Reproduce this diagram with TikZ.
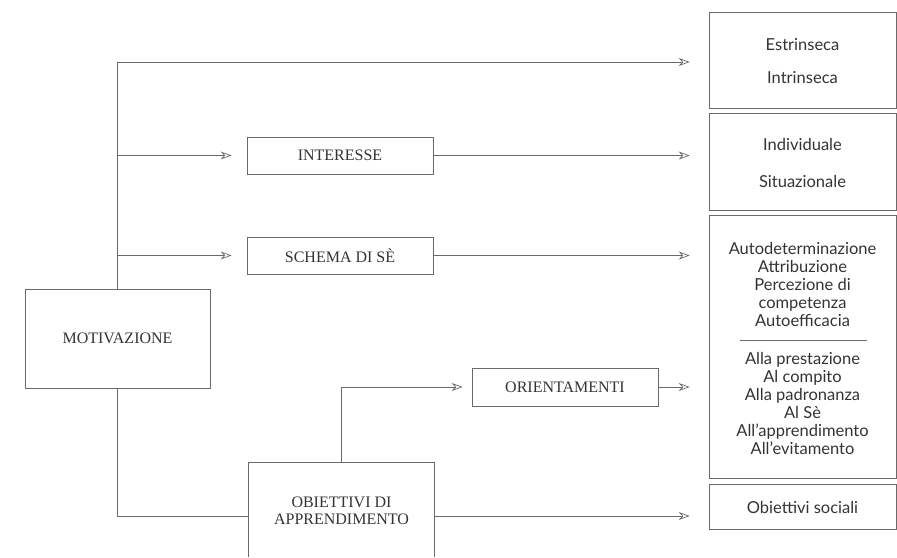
\documentclass[tikz,border=0pt]{standalone}
\usepackage{fontspec}
\setmainfont{Lato}
\newfontfamily\capsfont{Liberation Serif}
\usetikzlibrary{arrows.meta,calc}
\definecolor{ink}{HTML}{333333}
\definecolor{linec}{HTML}{6A6A6A}
\tikzset{
  boxl/.style={draw=linec,line width=0.7pt,rectangle,inner sep=0pt,text=ink,font=\capsfont\fontsize{16}{17}\selectfont,align=center},
  boxr/.style={draw=linec,line width=0.7pt,rectangle,inner sep=0pt},
  rtext/.style={text=ink,font=\fontsize{16.5}{18}\selectfont,align=center,inner sep=0pt},
  ln/.style={draw=linec,line width=0.7pt},
  arr/.style={ln,-{Stealth[open,length=11pt,width=8pt]}},
}
\begin{document}
\begin{tikzpicture}[x=1pt,y=-1pt]
\useasboundingbox (0,0) rectangle (897,557);
% left boxes
\node[boxl,minimum width=185pt,minimum height=99pt] (motiv) at (117.5,338.5) {MOTIVAZIONE};
\node[boxl,minimum width=186pt,minimum height=37pt] (inter) at (340,155.5) {INTERESSE};
\node[boxl,minimum width=186pt,minimum height=37pt] (schema) at (340,255.5) {SCHEMA DI SÈ};
\node[boxl,minimum width=186pt,minimum height=38pt] (orient) at (565,387) {ORIENTAMENTI};
\node[boxl,draw=none,minimum width=185pt,minimum height=106pt] (obj) at (341.5,516) {};
\node[boxl,draw=none] (objt) at (341.5,511) {OBIETTIVI DI\\APPRENDIMENTO};
\draw[ln] (obj.north west |- 0,557) -- (obj.north west) -- (obj.north east) -- (obj.north east |- 0,557);
% right boxes
\node[boxr,minimum width=187pt,minimum height=96pt] (r1) at (802.5,60) {};
\node[boxr,minimum width=187pt,minimum height=97pt] (r2) at (802.5,161.5) {};
\node[boxr,minimum width=187pt,minimum height=263pt] (r3) at (802.5,346.5) {};
\node[boxr,minimum width=187pt,minimum height=45pt] (r4) at (802.5,506.5) {};
\node[rtext] (t1a) at (802.5,45) {Estrinseca};
\node[rtext] (t1b) at (802.5,78) {Intrinseca};
\node[rtext] (t2a) at (802.5,144) {Individuale};
\node[rtext] (t2b) at (802.5,181) {Situazionale};
\node[rtext] (t3a) at (802.5,284) {Autodeterminazione\\Attribuzione\\Percezione di\\competenza\\Autoefficacia};
\node[rtext] (t3b) at (802.5,403) {Alla prestazione\\Al compito\\Alla padronanza\\Al Sè\\All’apprendimento\\All’evitamento};
\node[rtext] (t4) at (802.5,507) {Obiettivi sociali};
\coordinate (sepL) at (740,340);
\coordinate (sepR) at (867,340);
\draw[ln,line width=0.5pt] (sepL) -- (sepR);
% connectors
\coordinate (top) at (117.5,62);
\draw[ln] (motiv.north) -- (top);
\draw[arr,shorten >=19pt] (top) -- (top -| r1.west);
\draw[arr,shorten >=15pt] (inter.west -| top) -- (inter.west);
\draw[arr,shorten >=15pt] (schema.west -| top) -- (schema.west);
\draw[arr,shorten >=19pt] (inter.east) -- (inter.east -| r2.west);
\draw[arr,shorten >=19pt] (schema.east) -- (schema.east -| r3.west);
\draw[ln] (motiv.south) |- (obj.west);
\draw[arr,shorten >=9pt] (obj.north) |- (orient.west);
\draw[arr,shorten >=19pt] (orient.east) -- (orient.east -| r3.west);
\draw[arr,shorten >=19pt] (obj.east) -- (obj.east -| r4.west);
\end{tikzpicture}
\end{document}
